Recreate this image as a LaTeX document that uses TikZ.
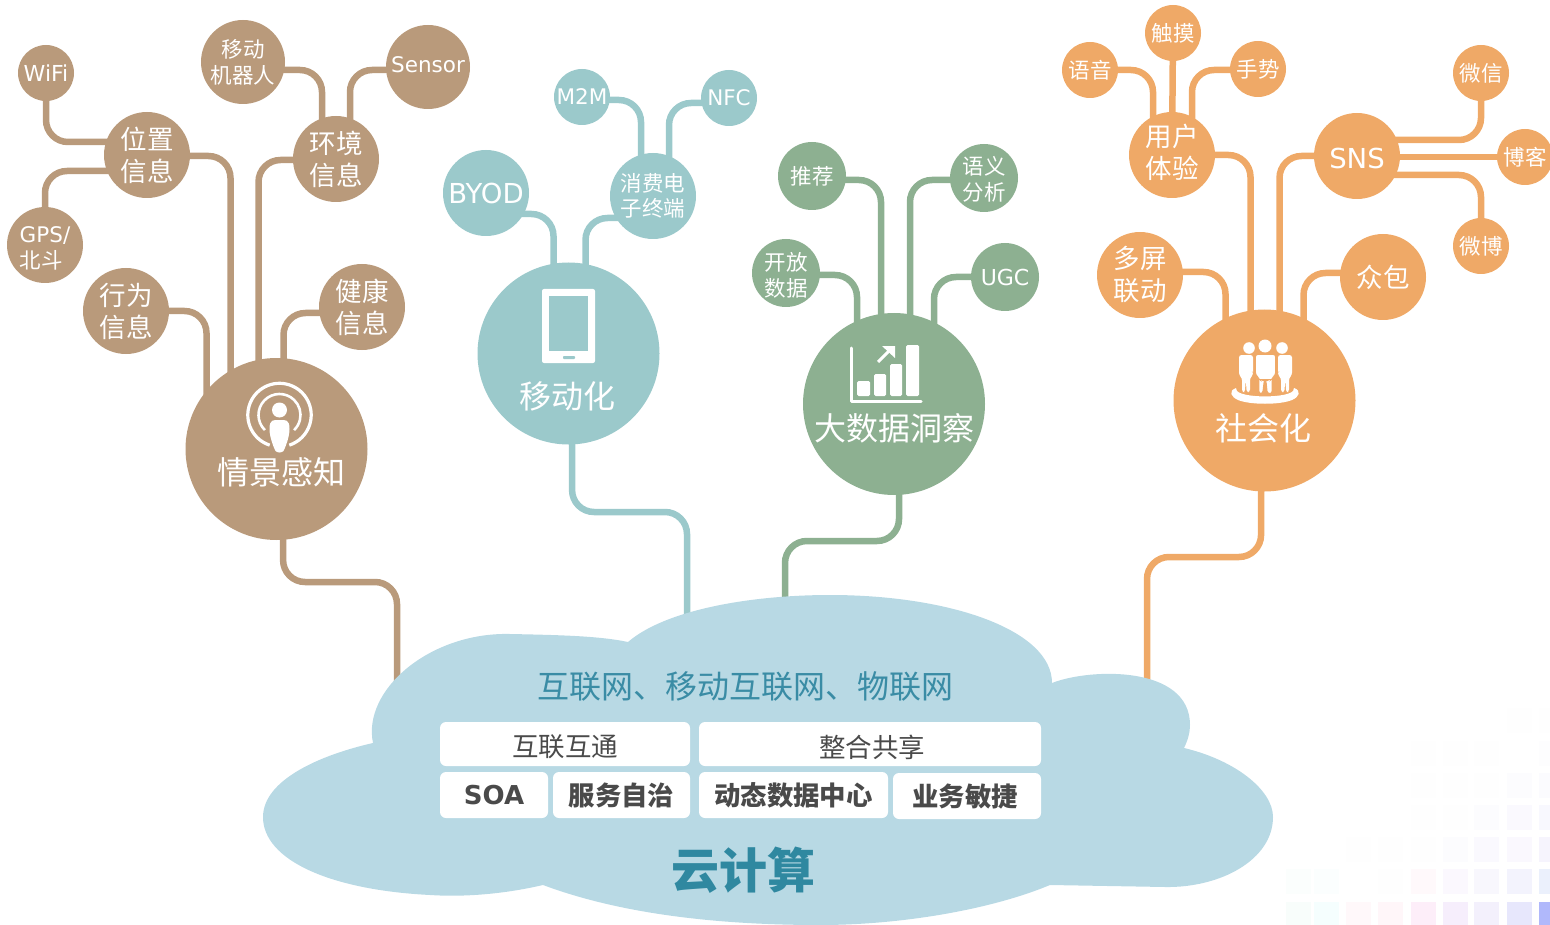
\documentclass[tikz,border=0pt]{standalone}
\usepackage{fontspec}
\setmainfont{DejaVu Sans}
\newfontfamily\cjk{Noto Sans CJK SC}
\usetikzlibrary{backgrounds,calc}
\definecolor{cbrown}{HTML}{B99A7B}
\definecolor{cteal}{HTML}{9BC9CB}
\definecolor{cgreen}{HTML}{8DB091}
\definecolor{corange}{HTML}{EFA967}
\definecolor{ccloud}{HTML}{B8D9E4}
\definecolor{cblue}{HTML}{3A8CA5}
\definecolor{cdark}{HTML}{2F88A0}
\definecolor{cgray}{HTML}{4A4A4A}
\newcommand\sqcell[3]{\definecolor{sqtmp}{HTML}{#3}\fill[sqtmp] (#1,#2) rectangle ++(25,25);}
\newcommand\lat[1]{{\rmfamily #1}}
\newcommand\nudge[2]{\raisebox{#1}[\height][\depth]{#2}}
\tikzset{
  ball/.style={circle,inner sep=0pt,text=white,align=center,minimum size=#1},
  tA/.style={font=\cjk\fontsize{21.5}{26}\selectfont},
  tB/.style={font=\cjk\fontsize{26.5}{32}\selectfont},
  tC/.style={font=\cjk\fontsize{32}{38}\selectfont,text=white,inner sep=0pt},
  link/.style={line width=6.5pt,rounded corners=22pt},
  plate/.style={fill=white,rounded corners=6pt,inner sep=0pt,text=cgray},
  pln/.style={font=\cjk\fontsize{26.5}{30}\selectfont},
  pbd/.style={font=\cjk\bfseries\fontsize{26.4}{30}\selectfont},
}
\begin{document}
\begin{tikzpicture}[x=1pt,y=-1pt]
\useasboundingbox (0,0) rectangle (1550,925);
% hubs
\node[ball=182pt,fill=cbrown] (zj) at (276.5,449) {};
\node[ball=182pt,fill=cteal] (yd) at (568.5,353.5) {};
\node[ball=182pt,fill=cgreen] (dsj) at (894,404) {};
\node[ball=182pt,fill=corange] (shh) at (1264.5,400.5) {};
\node[tC] (zjt) at (281,472) {情景感知};
\node[tC] (ydt) at (567,396) {移动化};
\node[tC] (dsjt) at (894,428) {大数据洞察};
\node[tC] (shht) at (1263,428) {社会化};
% brown
\begin{scope}[every node/.append style={fill=cbrown}]
\node[ball=86pt,tB] (wz) at (147,155) {位置\\信息};
\node[ball=86pt,tB] (hj) at (336,159) {环境\\信息};
\node[ball=86pt,tB] (xw) at (126,311) {行为\\信息};
\node[ball=86pt,tB] (jk) at (362,307) {健康\\信息};
\node[ball=56pt,font=\fontsize{22}{25}\selectfont] (wifi) at (46,73) {WiFi};
\node[ball=76pt,tA,align=left] (gps) at (45,245) {\nudge{-3.5pt}{\lat{GPS/}}\\\nudge{-3.5pt}{北斗}};
\node[ball=84pt,tA] (robot) at (243,62) {移动\\机器人};
\node[ball=84pt,font=\fontsize{21.5}{25}\selectfont] (sensor) at (428,67) {\nudge{2pt}{Sensor}};
\end{scope}
% teal
\begin{scope}[every node/.append style={fill=cteal}]
\node[ball=86pt,font=\fontsize{27.5}{30}\selectfont] (byod) at (486,193) {BYOD};
\node[ball=86pt,tA,font=\cjk\fontsize{21.5}{25}\selectfont] (xf) at (653,196) {消费电\\子终端};
\node[ball=56pt,font=\fontsize{21.5}{25}\selectfont] (m2m) at (582,97) {M2M};
\node[ball=56pt,font=\fontsize{21.5}{25}\selectfont] (nfc) at (729,98) {NFC};
\end{scope}
% green
\begin{scope}[every node/.append style={fill=cgreen}]
\node[ball=68pt,tA] (tj) at (812,176) {推荐};
\node[ball=68pt,tA] (yy) at (984,178) {\nudge{-1.5pt}{语义}\\\nudge{-1.5pt}{分析}};
\node[ball=68pt,tA] (kf) at (786,273) {\nudge{-2pt}{开放}\\\nudge{-2pt}{数据}};
\node[ball=68pt,font=\fontsize{22}{25}\selectfont] (ugc) at (1005,277) {UGC};
\end{scope}
% orange
\begin{scope}[every node/.append style={fill=corange}]
\node[ball=86pt,tB] (yh) at (1172,155) {\nudge{2.5pt}{用户}\\\nudge{2.5pt}{体验}};
\node[ball=86pt,font=\fontsize{27.5}{32}\selectfont] (sns) at (1357,156) {\nudge{-2pt}{SNS}};
\node[ball=86pt,tB] (dp) at (1140,275) {多屏\\联动};
\node[ball=86pt,tB] (zb) at (1383,277) {众包};
\node[ball=56pt,tA] (yuyin) at (1090,70) {语音};
\node[ball=56pt,tA] (chumo) at (1173,33) {触摸};
\node[ball=56pt,tA] (shou) at (1258,69) {手势};
\node[ball=56pt,tA] (wx) at (1481,73) {微信};
\node[ball=56pt,tA] (bk) at (1525,157) {博客};
\node[ball=56pt,tA] (wb) at (1481,246) {微博};
\end{scope}
% cloud anchors
\coordinate (c1) at (397,720);
\coordinate (c2) at (687,660);
\coordinate (c3) at (785,660);
\coordinate (c4) at (1147,720);
\begin{scope}[on background layer]
% faint squares
\sqcell{1286}{902}{F8FDFB}\sqcell{1314}{902}{F5FEFE}\sqcell{1346}{902}{FFF8FA}\sqcell{1378}{902}{FFF6F9}\sqcell{1411}{902}{FDEEF9}\sqcell{1443}{902}{F6EEFC}\sqcell{1474}{902}{F3F0FC}\sqcell{1507}{902}{E7E7FC}\sqcell{1539}{902}{B0B8FB}
\sqcell{1286}{869}{FBFEFD}\sqcell{1314}{869}{FBFEFE}\sqcell{1378}{869}{FEFEFE}\sqcell{1411}{869}{FFF9FB}\sqcell{1443}{869}{FBF8FE}\sqcell{1474}{869}{F8F7FD}\sqcell{1507}{869}{F3F3FD}\sqcell{1539}{869}{EBF0FC}
\sqcell{1346}{837}{FEFEFE}\sqcell{1378}{837}{FEFEFE}\sqcell{1411}{837}{FEFEFE}\sqcell{1443}{837}{FCFCFE}\sqcell{1474}{837}{FAF9FE}\sqcell{1507}{837}{FAF8FE}\sqcell{1539}{837}{F6F4FD}
\sqcell{1411}{805}{FEFEFE}\sqcell{1443}{805}{FEFEFE}\sqcell{1474}{805}{FCFCFE}\sqcell{1507}{805}{FAF9FE}\sqcell{1539}{805}{F8F8FE}
\sqcell{1411}{773}{FEFEFE}\sqcell{1443}{773}{FEFEFE}\sqcell{1474}{773}{FEFEFE}\sqcell{1507}{773}{FCFCFE}\sqcell{1539}{773}{FBFBFE}
\sqcell{1411}{741}{FEFEFE}\sqcell{1443}{741}{FEFEFE}\sqcell{1474}{741}{FEFEFE}\sqcell{1539}{741}{FDFDFE}
\sqcell{1507}{708}{FEFEFE}\sqcell{1539}{708}{FEFEFE}
% brown links
\draw[link,cbrown] ([yshift=-1pt]wz.center) -| ([xshift=-46pt]zj.center);
\draw[link,cbrown] ([yshift=-1pt]hj.center) -| ([xshift=-18pt]zj.center);
\draw[link,cbrown] (xw.center) -| ([xshift=-70pt]zj.center);
\draw[link,cbrown] ([yshift=-6pt]jk.center) -| ([xshift=7pt]zj.center);
\draw[link,cbrown] (wifi.center) |- ([yshift=13pt]wz.center);
\draw[link,cbrown] (gps.center) |- ([yshift=-16pt]wz.center);
\draw[link,cbrown] ([yshift=-8pt]robot.center) -| ([xshift=-14pt]hj.center);
\draw[link,cbrown] ([yshift=-3pt]sensor.center) -| ([xshift=14pt]hj.center);
\draw[link,cbrown] ([xshift=7pt]zj.center) -- (283,582) -- (397,582) -- (c1);
% teal links
\draw[link,cteal] ([yshift=-21pt]byod.center) -| ([xshift=-15pt]yd.center);
\draw[link,cteal] ([yshift=-22pt]xf.center) -| ([xshift=17pt]yd.center);
\draw[link,cteal] ([yshift=-3pt]m2m.center) -| ([xshift=-12pt]xf.center);
\draw[link,cteal] ([yshift=-5pt]nfc.center) -| ([xshift=16pt]xf.center);
\draw[link,cteal] ([xshift=4pt]yd.center) -- (572,512) -- (687,512) -- (c2);
% green links
\draw[link,cgreen] ([yshift=-4pt]tj.center) -| ([xshift=-13pt]dsj.center);
\draw[link,cgreen] ([yshift=-2pt]yy.center) -| ([xshift=16pt]dsj.center);
\draw[link,cgreen] ([yshift=-2pt]kf.center) -| ([xshift=-37pt]dsj.center);
\draw[link,cgreen] (ugc.center) -| ([xshift=40pt]dsj.center);
\draw[link,cgreen] ([xshift=5pt]dsj.center) -- (899,541) -- (785,541) -- (c3);
% orange links
\draw[link,corange] (yh.center) -| ([xshift=-14pt]shh.center);
\draw[link,corange] (sns.center) -| ([xshift=15pt]shh.center);
\draw[link,corange] ([yshift=3pt]dp.center) -| ([xshift=-39pt]shh.center);
\draw[link,corange] ([yshift=4pt]zb.center) -| ([xshift=39pt]shh.center);
\draw[link,corange] (yuyin.center) -| ([xshift=-19pt]yh.center);
\draw[link,corange] (chumo.center) -- (yh.center);
\draw[link,corange] ([yshift=-1pt]shou.center) -| ([xshift=20pt]yh.center);
\draw[link,corange] ([yshift=16pt]sns.center) -| (wx.center);
\draw[link,corange] ([yshift=-1pt]sns.center) -- (bk.center);
\draw[link,corange] ([yshift=-19pt]sns.center) -| (wb.center);
\draw[link,corange] ([xshift=-3pt]shh.center) -- (1261,557) -- (1147,557) -- (c4);
\end{scope}
% cloud
\fill[ccloud] (373,743) .. controls (362,690) and (430,632) .. (510,634)
  .. controls (560,635) and (600,636) .. (628,642)
  .. controls (665,610) and (750,595) .. (830,595)
  .. controls (950,595) and (1052,630) .. (1052,683)
  .. controls (1090,668) and (1190,665) .. (1190,725)
  .. controls (1190,732) and (1188,740) .. (1184,748)
  .. controls (1235,760) and (1273,790) .. (1273,817)
  .. controls (1273,860) and (1220,888) .. (1165,887)
  -- (1050,885)
  .. controls (990,910) and (900,925) .. (820,925)
  .. controls (700,925) and (610,910) .. (543,885)
  .. controls (500,895) and (460,897) .. (430,895)
  .. controls (330,890) and (263,860) .. (263,817)
  .. controls (263,780) and (320,755) .. (373,743) -- cycle;
\node[text=cblue,inner sep=0pt,font=\cjk\fontsize{32}{38}\selectfont] (net) at (745,686) {互联网、移动互联网、物联网};
\node[plate,pln,minimum width=250pt,minimum height=44pt] (p1) at (565,744) {\nudge{-3pt}{互联互通}};
\node[plate,pln,minimum width=342pt,minimum height=44pt] (p2) at (870,744) {\hspace*{4pt}\nudge{-3pt}{整合共享}};
\node[plate,minimum width=108pt,minimum height=46pt,font=\bfseries\fontsize{26}{30}\selectfont] (p3) at (494,795) {SOA};
\node[plate,pbd,minimum width=137pt,minimum height=46pt] (p4) at (621.5,795) {服务自治};
\node[plate,pbd,minimum width=189pt,minimum height=46pt] (p5) at (793.5,795) {动态数据中心};
\node[plate,pbd,minimum width=148pt,minimum height=46pt] (p6) at (967,796) {\nudge{-1pt}{业务敏捷}\hspace*{4pt}};
\node[text=cdark,inner sep=0pt,font=\cjk\bfseries\fontsize{48}{54}\selectfont] (cc) at (743,870) {云计算};
% icon: signal person
\begin{scope}[shift={(279.5,415)},y=1pt]
\draw[white,line width=3.2pt] (252:31.7) arc[start angle=252,end angle=-72,radius=31.7];
\draw[white,line width=2.6pt] (226:21) arc[start angle=226,end angle=-46,radius=21];
\fill[white] (0,5) circle[radius=7.5];
\fill[white] (-10,-14) .. controls (-10,-4) and (-6,-5) .. (0,-5) .. controls (6,-5) and (10,-4) .. (10,-14) .. controls (10,-22) and (6,-32) .. (4,-36) .. controls (2,-38) and (-2,-38) .. (-4,-36) .. controls (-6,-32) and (-10,-22) .. (-10,-14) -- cycle;
\end{scope}
% icon: tablet
\fill[white,rounded corners=2pt] (542,289) rectangle (595,363);
\fill[cteal] (549,296) rectangle (588,351);
\fill[cteal,rounded corners=0.8pt] (563,356) rectangle (575,359);
% icon: chart
\draw[white,line width=3pt,line cap=round,line join=round] (851,348) -- (851,401) -- (921,401);
\fill[white,rounded corners=1.5pt] (857,381) rectangle (870,396);
\fill[white,rounded corners=1.5pt] (874,374) rectangle (886,396);
\fill[white,rounded corners=1.5pt] (890,364) rectangle (902,396);
\fill[white,rounded corners=1.5pt] (906,345) rectangle (919,396);
\draw[white,line width=3pt] (878,362) -- (892,348);
\fill[white] (882,346) -- (895,346) -- (895,358) -- cycle;
% icon: people
\fill[white] (1265,346) circle[radius=6.5];
\fill[white] (1249,348) circle[radius=5.8];
\fill[white] (1282,348) circle[radius=5.8];
\fill[white,rounded corners=2.5pt] (1239,355) -- (1253,355) -- (1253,375) -- (1250,378) -- (1250,392) -- (1246.5,392) -- (1246,381) -- (1245.5,381) -- (1245,392) -- (1242,392) -- (1242,378) -- (1239,375) -- cycle;
\fill[white,rounded corners=2.5pt] (1278,355) -- (1292,355) -- (1292,375) -- (1289,378) -- (1289,392) -- (1286,392) -- (1285.5,381) -- (1285,381) -- (1284.5,392) -- (1281,392) -- (1281,378) -- (1278,375) -- cycle;
\draw[corange,line width=1.6pt,fill=white,rounded corners=3pt] (1255,354) -- (1276,354) -- (1276,375) -- (1272.5,378) -- (1272.5,394) -- (1267,394) -- (1265.6,380) -- (1264.6,380) -- (1263,394) -- (1258.5,394) -- (1258.5,378) -- (1255,375) -- cycle;
\fill[white] (1236,388) .. controls (1228,391) and (1231,397) .. (1238,400) .. controls (1250,405) and (1280,405) .. (1292,400) .. controls (1299,397) and (1302,391) .. (1294,388) .. controls (1295,392) and (1288,396) .. (1265,396.5) .. controls (1242,396) and (1235,392) .. (1236,388) -- cycle;
\end{tikzpicture}
\end{document}
